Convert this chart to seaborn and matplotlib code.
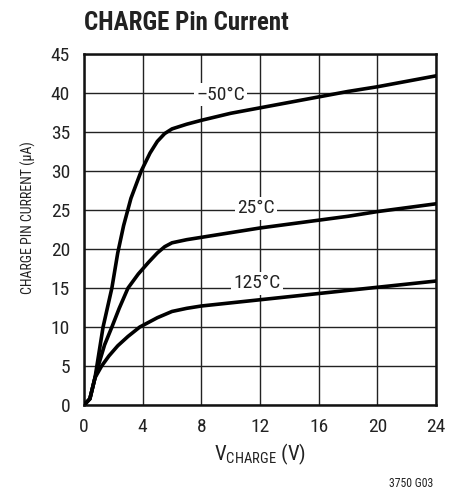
import pandas as pd
import matplotlib
matplotlib.use("Agg")
import matplotlib.pyplot as plt
import seaborn as sns

# curve data (V_CHARGE in V, current in uA)
v_m50 = [0, 0.4, 0.75, 1.3, 1.9, 2.3, 2.7, 3.2, 3.9, 4.5, 5.0, 5.5, 6.0,
         7.0, 8.0, 10, 12, 14, 16, 18, 20, 22, 24]
i_m50 = [0, 0.8, 3.5, 10, 15, 19.5, 23, 26.5, 30, 32.3, 33.8, 34.8, 35.4,
         36.0, 36.5, 37.4, 38.1, 38.8, 39.5, 40.2, 40.8, 41.5, 42.2]

v_25 = [0, 0.4, 0.75, 0.97, 1.4, 1.9, 2.4, 3.0, 3.7, 4.4, 5.0, 5.5, 6.0, 7, 8,
        10, 12, 14, 16, 18, 20, 22, 24]
i_25 = [0, 0.8, 3.5, 5, 7.7, 10, 12.4, 15, 16.8, 18.3, 19.5, 20.3, 20.8, 21.2,
        21.5, 22.1, 22.7, 23.2, 23.7, 24.2, 24.8, 25.3, 25.8]

v_125 = [0, 0.4, 0.75, 1.2, 1.7, 2.3, 3.0, 3.8, 5.0, 6.0, 7.0, 8,
         10, 12, 14, 16, 18, 20, 22, 24]
i_125 = [0, 0.8, 3.5, 5.0, 6.3, 7.6, 8.8, 10.0, 11.2, 12.0, 12.4, 12.7,
         13.1, 13.5, 13.9, 14.3, 14.7, 15.1, 15.5, 15.9]

temps = ["\u201350\u00b0C", "25\u00b0C", "125\u00b0C"]
label_pos = [(9.3, 39.8), (11.7, 25.2), (11.8, 15.6)]

x_ticks = [0, 4, 8, 12, 16, 20, 24]
y_ticks = [0, 5, 10, 15, 20, 25, 30, 35, 40, 45]

frames = []
for name, v, i in zip(temps, [v_m50, v_25, v_125], [i_m50, i_25, i_125]):
    frames.append(pd.DataFrame({"v": v, "i": i, "temp": name}))
df = pd.concat(frames, ignore_index=True)

sns.set_style("white")
plt.rcParams["font.family"] = ["Roboto Condensed", "DejaVu Sans"]
plt.rcParams["mathtext.fontset"] = "custom"
plt.rcParams["mathtext.rm"] = "Roboto Condensed"

fig = plt.figure(figsize=(4.6, 4.94), dpi=100)
ax = fig.add_axes([0.1826, 0.180, 0.7654, 0.7107])

sns.lineplot(data=df, x="v", y="i", hue="temp", units="temp", estimator=None,
             palette=["black"] * 3, linewidth=2.6, legend=False, sort=False,
             ax=ax, zorder=4)

for name, (tx, ty) in zip(temps, label_pos):
    ax.text(tx, ty, name, ha="center", va="center", fontsize=14, zorder=3,
            color="#222222", bbox=dict(facecolor="white", edgecolor="none", pad=1.5))

ax.set_xlim(0, 24)
ax.set_ylim(0, 45)
ax.set_xticks(x_ticks)
ax.set_yticks(y_ticks)
ax.tick_params(length=0, labelsize=14, colors="#222222")
ax.tick_params(axis="x", pad=9)
ax.tick_params(axis="y", pad=10)
ax.grid(True, color="#222222", linewidth=1.0)
for s in ax.spines.values():
    s.set_visible(True)
    s.set_color("#111111")
    s.set_linewidth(1.8)

ax.set_xlabel("V$_{\\mathregular{CHARGE}}$ (V)", fontsize=15, color="#222222")
ax.xaxis.set_label_coords(0.5, -0.105)
ax.set_ylabel("CHARGE PIN CURRENT (\u03bcA)", fontsize=10, color="#222222")
ax.yaxis.set_label_coords(-0.137, 0.533)

fig.text(0.1826, 0.94, "CHARGE Pin Current", fontsize=18, fontweight="bold",
         color="#222222", ha="left", va="baseline")
fig.text(0.942, 0.008, "3750 G03", fontsize=8.5, color="#222222", ha="right", va="bottom")

fig.savefig("out.png", dpi=100)
